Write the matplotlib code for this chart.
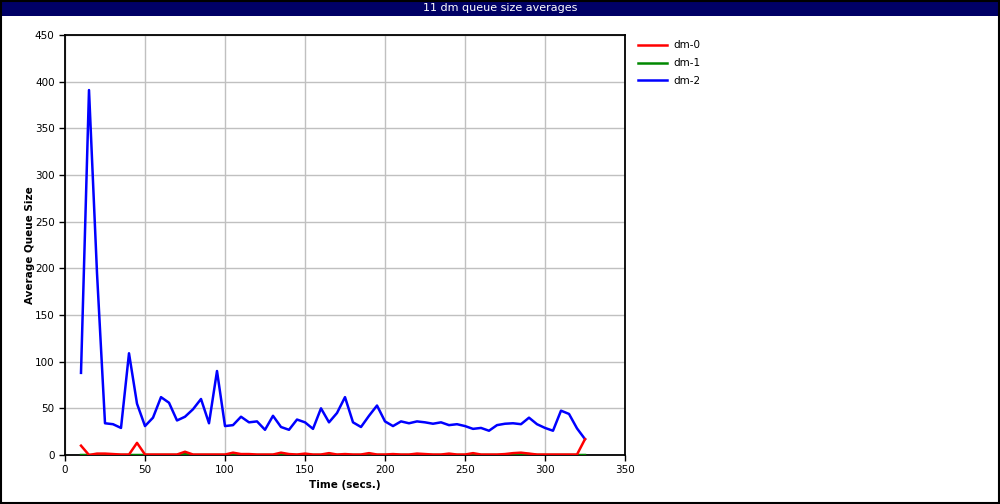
import matplotlib
matplotlib.use("Agg")
import matplotlib.pyplot as plt
from matplotlib.patches import Rectangle

# sample times (secs.)
times = list(range(10, 330, 5))

dm0 = [10, 0, 1.5, 1.5, 1, 0.5, 0.5, 13, 0.5, 0.5,
       0.5, 0.5, 0.5, 3.5, 0.5, 0.5, 0.5, 0.5, 0.5, 2.5,
       1, 1, 0.5, 0.5, 0.5, 2.5, 1, 0.5, 1.5, 0.5,
       0.5, 2, 0.5, 1, 0.5, 0.5, 2, 0.5, 0.5, 1,
       0.5, 0.5, 1.5, 1, 0.5, 0.5, 1.5, 0.5, 0.5, 2,
       0.5, 0.5, 0.5, 1, 2, 2.5, 1.5, 0.5, 0.5, 0.5,
       0.5, 0.5, 0.5, 17]
dm1 = [0, 0, 0, 0, 0, 0, 0, 0, 0, 0,
       0, 0, 0, 1, 0, 0, 0, 0, 0, 1,
       0, 0, 0, 0, 0, 1, 0, 0, 0, 0,
       0, 1, 0, 0, 0, 0, 1, 0, 0, 0,
       0, 0, 0, 0, 0, 0, 0, 0, 0, 1,
       0, 0, 0, 0, 1, 1, 1, 0, 0, 0,
       0, 0, 0, 0]
dm2 = [88, 391, 195, 34, 33, 29, 109, 55, 31, 40,
       62, 56, 37, 41, 49, 60, 34, 90, 31, 32,
       41, 35, 36, 27, 42, 30, 27, 38, 35, 28,
       50, 35, 45, 62, 35, 30, 42, 53, 36, 31,
       36, 34, 36, 35, 33.5, 35, 32, 33, 31, 28,
       29, 26, 32, 33.5, 34, 33, 40, 33, 29, 26,
       47.5, 44, 28.5, 17]

fig = plt.figure(figsize=(10, 5.04), dpi=100)
fig.patch.set_facecolor("white")

# title bar
fig.patches.append(Rectangle((0, 1 - 16 / 504), 1, 16 / 504, transform=fig.transFigure,
                             facecolor="#000066", edgecolor="none", zorder=0))
fig.text(0.5, 1 - 8 / 504, "11 dm queue size averages", color="white",
         ha="center", va="center", fontsize=8)
# outer border
fig.patches.append(Rectangle((0.0005, 0.001), 0.998, 0.998, transform=fig.transFigure,
                             facecolor="none", edgecolor="black", linewidth=1.5, zorder=5))

ax = fig.add_axes([65 / 1000, 49 / 504, 560 / 1000, 420 / 504])
ax.plot(times, dm2, color="#0000ff", linewidth=1.8, zorder=3, label="dm-2")
ax.plot(times, dm1, color="#008800", linewidth=1.8, zorder=4, label="dm-1")
ax.plot(times, dm0, color="#ff0000", linewidth=1.8, zorder=5, label="dm-0")

ax.set_xlim(0, 350)
ax.set_ylim(0, 450)
ax.set_xticks(range(0, 351, 50))
ax.set_yticks(range(0, 451, 50))
ax.grid(True, color="#c0c0c0", linewidth=1)
ax.set_axisbelow(True)
ax.tick_params(direction="out", length=4, labelsize=7.5, width=1)
for s in ax.spines.values():
    s.set_linewidth(1.3)
ax.set_xlabel("Time (secs.)", fontsize=7.5, fontweight="bold", labelpad=3)
ax.set_ylabel("Average Queue Size", fontsize=7.5, fontweight="bold", labelpad=0)

handles, labels = ax.get_legend_handles_labels()
ax.legend(handles[::-1], labels[::-1], loc="upper left", bbox_to_anchor=(1.015, 0.997),
          frameon=False, fontsize=7.5, handlelength=2.8, labelspacing=0.75,
          handletextpad=0.6, borderaxespad=0)

fig.savefig("out.png", dpi=100)
